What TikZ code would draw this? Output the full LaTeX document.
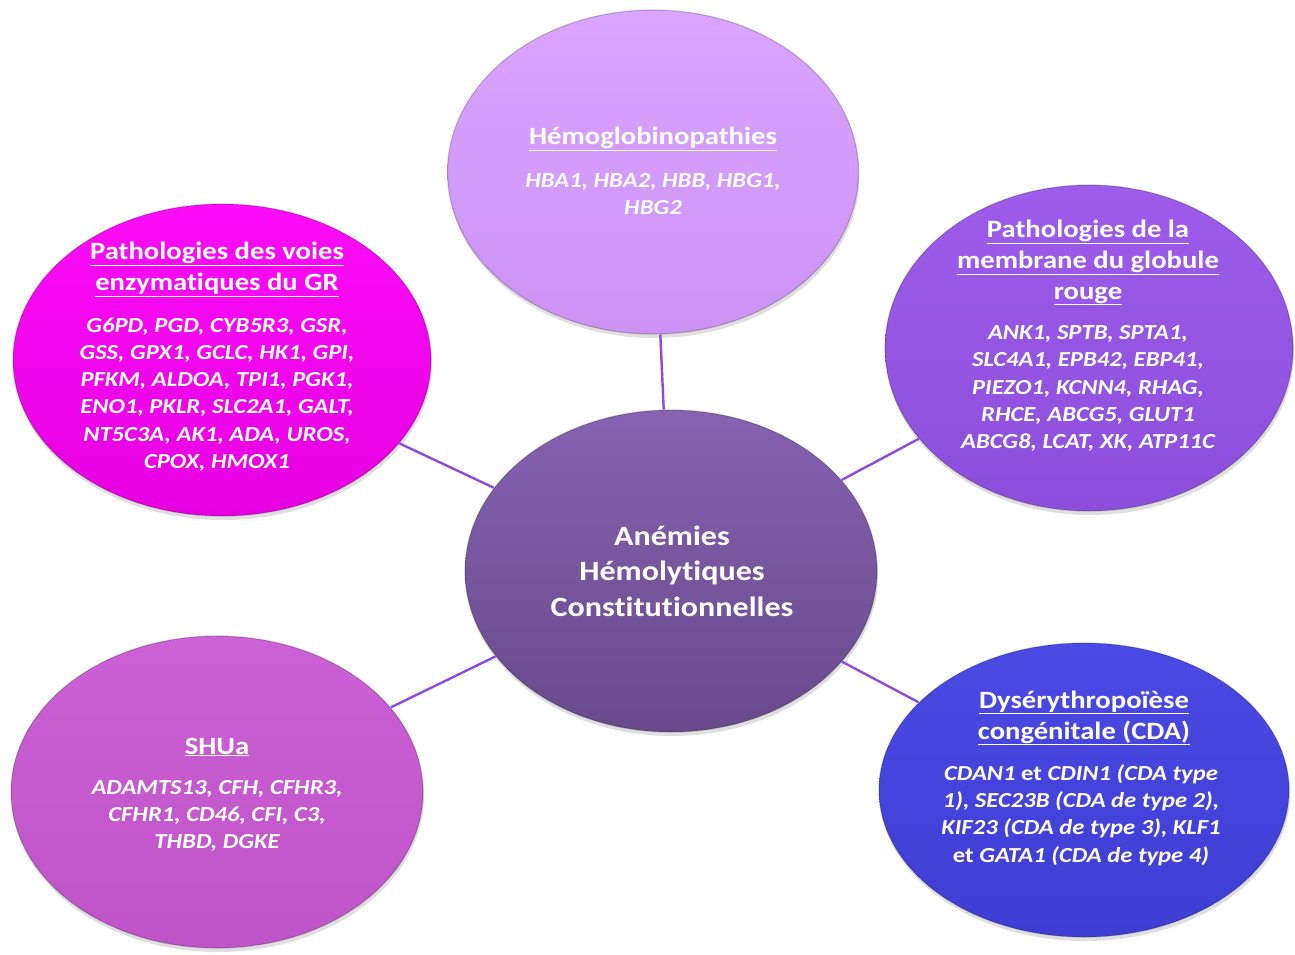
\documentclass[tikz,border=0pt]{standalone}
\usepackage{fontspec}
\setmainfont{Carlito}[FakeStretch=1.15, Ligatures=CommonOff]
\usetikzlibrary{shapes.geometric,shadows}
\definecolor{cTop}{RGB}{218,164,255}
\definecolor{cTopB}{RGB}{204,146,244}
\definecolor{cTL}{RGB}{252,12,248}
\definecolor{cTLB}{RGB}{230,0,225}
\definecolor{cTR}{RGB}{158,92,234}
\definecolor{cTRB}{RGB}{140,78,220}
\definecolor{cBL}{RGB}{204,96,214}
\definecolor{cBLB}{RGB}{190,84,200}
\definecolor{cBR}{RGB}{74,74,228}
\definecolor{cBRB}{RGB}{62,62,212}
\definecolor{cCT}{RGB}{134,98,176}
\definecolor{cCB}{RGB}{104,74,140}
\definecolor{cLine}{RGB}{140,76,222}
\tikzset{
  blob/.style={ellipse, inner sep=0pt, draw=black, draw opacity=0.2, line width=1.2bp,
    drop shadow={opacity=0.25, shadow xshift=1bp, shadow yshift=-4bp}},
  hdtxt/.style={align=center, text=white, inner sep=0pt, font=\bfseries\fontsize{25}{31}\selectfont},
  bodytxt/.style={align=center, text=white, inner sep=0pt, font=\bfseries\itshape\fontsize{21.5}{27.3}\selectfont},
  ctrtxtstyle/.style={align=center, text=white, inner sep=0pt, font=\bfseries\fontsize{28}{35.5}\selectfont},
  link/.style={draw=cLine, line width=2.4bp},
}
\begin{document}
\begin{tikzpicture}[x=1bp,y=-1bp]
\useasboundingbox (0,0) rectangle (1295,955);
\fill[white] (0,0) rectangle (1295,955);
% ellipses
\node[blob, top color=cTop, bottom color=cTopB, minimum width=411bp, minimum height=324bp] (top) at (653,172) {};
\node[blob, top color=cTL, bottom color=cTLB, minimum width=418bp, minimum height=312bp] (tl) at (222,360) {};
\node[blob, top color=cTR, bottom color=cTRB, minimum width=408bp, minimum height=326bp] (tr) at (1089,348) {};
\node[blob, top color=cBL, bottom color=cBLB, minimum width=412bp, minimum height=312bp] (bl) at (217,792) {};
\node[blob, top color=cBR, bottom color=cBRB, minimum width=410bp, minimum height=294bp] (br) at (1084,790) {};
\node[blob, top color=cCT, bottom color=cCB, minimum width=412bp, minimum height=322bp] (ctr) at (671,571) {};
% connectors
\draw[link] (top) -- (ctr);
\draw[link] (tl) -- (ctr);
\draw[link] (tr) -- (ctr);
\draw[link] (bl) -- (ctr);
\draw[link] (br) -- (ctr);
% texts
\node[ctrtxtstyle] (ctrtxt) at (672,571) {Anémies\\Hémolytiques\\Constitutionnelles};
\node[hdtxt] (tophd) at (653,139) {\underline{Hémoglobinopathies}};
\node[bodytxt] (topbody) at (653,194) {HBA1, HBA2, HBB, HBG1,\\HBG2};
\node[hdtxt] (tlhd) at (217,269.5) {\underline{Pathologies des voies}\\\underline{enzymatiques du GR}};
\node[bodytxt] (tlbody) at (217,394.5) {G6PD, PGD, CYB5R3, GSR,\\GSS, GPX1, GCLC, HK1, GPI,\\PFKM, ALDOA, TPI1, PGK1,\\ENO1, PKLR, SLC2A1, GALT,\\NT5C3A, AK1, ADA, UROS,\\CPOX, HMOX1};
\node[hdtxt] (trhd) at (1088,262.5) {\underline{Pathologies de la}\\\underline{membrane du globule}\\\underline{rouge}};
\node[bodytxt] (trbody) at (1088,388.5) {ANK1, SPTB, SPTA1,\\SLC4A1, EPB42, EBP41,\\PIEZO1, KCNN4, RHAG,\\RHCE, ABCG5, GLUT1\\ABCG8, LCAT, XK, ATP11C};
\node[hdtxt] (blhd) at (217,747) {\underline{SHUa}};
\node[bodytxt] (blbody) at (217,816) {ADAMTS13, CFH, CFHR3,\\CFHR1, CD46, CFI, C3,\\THBD, DGKE};
\node[hdtxt] (brhd) at (1084,718) {\underline{Dysérythropoïèse}\\\underline{congénitale (CDA)}};
\node[bodytxt] (brbody) at (1081,815) {CDAN1 \upshape et \itshape CDIN1 (CDA type\\1), SEC23B (CDA de type 2),\\KIF23 (CDA de type 3), KLF1\\\upshape et \itshape GATA1 (CDA de type 4)};
\end{tikzpicture}
\end{document}
